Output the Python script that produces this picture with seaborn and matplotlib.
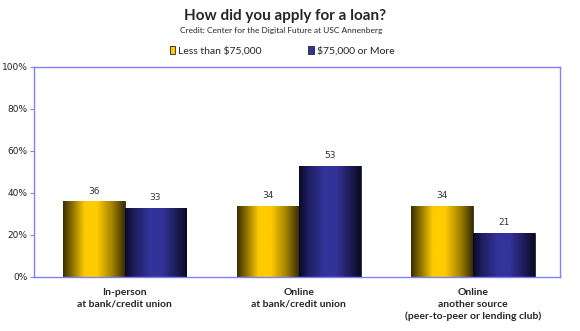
import numpy as np
import pandas as pd
import matplotlib
matplotlib.use("Agg")
import matplotlib.pyplot as plt
import seaborn as sns
from matplotlib.colors import LinearSegmentedColormap
from matplotlib.patches import Patch

categories = ["In-person\nat bank/credit union",
              "Online\nat bank/credit union",
              "Online\nanother source\n(peer-to-peer or lending club)"]
series_names = ["Less than $75,000", "$75,000 or More"]
less_than = [36, 34, 34]
more_than = [33, 53, 21]
y_ticks = [0, 20, 40, 60, 80, 100]
y_tick_labels = ["0%", "20%", "40%", "60%", "80%", "100%"]

df = pd.DataFrame({
    "category": categories * 2,
    "series": [series_names[0]] * 3 + [series_names[1]] * 3,
    "value": less_than + more_than,
})

sns.set_theme(style="white")
plt.rcParams['font.family'] = ['Lato', 'DejaVu Sans']

fig = plt.figure(figsize=(5.8, 3.31), dpi=100)
ax = fig.add_axes([34/580, 1-277/331, (560-34)/580, (277-67)/331])

base_colors = {series_names[0]: "#FFCC00", series_names[1]: "#333399"}
sns.barplot(data=df, x="category", y="value", hue="series", order=categories,
            hue_order=series_names, palette=base_colors, width=0.71, ax=ax,
            legend=False, edgecolor="#222222", linewidth=0.6, saturation=1)

cmaps = {
    series_names[0]: LinearSegmentedColormap.from_list(
        "y", [(0, "#3a2e00"), (0.15, "#8a7000"), (0.35, "#FFCC00"),
              (0.55, "#FFCC00"), (0.8, "#a08000"), (1, "#3a2e00")]),
    series_names[1]: LinearSegmentedColormap.from_list(
        "b", [(0, "#0a0a28"), (0.15, "#1e1e60"), (0.4, "#333399"),
              (0.6, "#333399"), (0.85, "#1a1a50"), (1, "#0a0a22")]),
}
grad = np.linspace(0, 1, 256).reshape(1, -1)
for cont, name in zip(ax.containers, series_names):
    for patch in cont.patches:
        x0, y0 = patch.get_x(), patch.get_y()
        w, h = patch.get_width(), patch.get_height()
        im = ax.imshow(grad, cmap=cmaps[name], aspect="auto",
                       extent=[x0, x0 + w, y0, y0 + h], zorder=patch.get_zorder() + 0.1)
        im.set_clip_path(patch)
    ax.bar_label(cont, fmt="%d", padding=4, fontsize=6.5, family="DejaVu Sans",
                 color="#333333")

ax.set_xlim(-0.52, 2.5)
ax.set_ylim(0, 100)
ax.set_yticks(y_ticks)
ax.set_yticklabels(y_tick_labels, fontsize=6.5, family="DejaVu Sans", color="#222222")
ax.set_xticks(range(3))
ax.set_xticklabels(categories, fontsize=7.5, fontweight="bold", linespacing=1.4)
ax.tick_params(axis="y", which="both", left=True, length=3, width=0.8,
               color="#8080FF", pad=1.5)
ax.tick_params(axis="x", length=0, pad=8)
ax.set_xlabel("")
ax.set_ylabel("")
for s in ax.spines.values():
    s.set_visible(True)
    s.set_color("#8080FF")
    s.set_linewidth(1.0)

fig.text(285/580, 1-16/331, "How did you apply for a loan?", ha="center", va="center",
         fontsize=11, fontweight="bold")
fig.text(281/580, 1-31/331, "Credit: Center for the Digital Future at USC Annenberg",
         ha="center", va="center", fontsize=6)

handles = [Patch(facecolor=base_colors[n], edgecolor="#222222", linewidth=0.6) for n in series_names]
fig.legend(handles, series_names, loc="center", bbox_to_anchor=(282/580, 1-51/331),
           ncol=2, frameon=False, fontsize=7.5, handlelength=0.5, handleheight=0.8,
           handletextpad=0.3, columnspacing=4.5)

fig.savefig("out.png", dpi=100)
